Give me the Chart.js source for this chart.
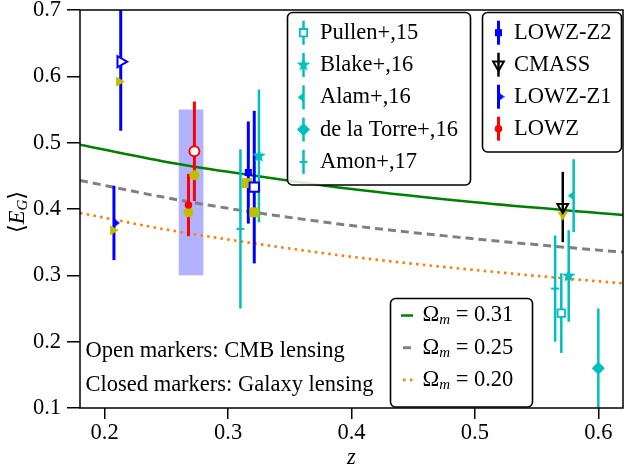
<!DOCTYPE html>
<html>
<head>
<meta charset="utf-8">
<script src="https://cdn.jsdelivr.net/npm/chart.js@4.4.1/dist/chart.umd.min.js"></script>
<style>
  html, body { margin: 0; padding: 0; background: #fff; }
</style>
</head>
<body>
<canvas id="chart" width="625" height="468"></canvas>
<script>
// AXES
const xTicks = [0.2, 0.3, 0.4, 0.5, 0.6];
const yTicks = [0.1, 0.2, 0.3, 0.4, 0.5, 0.6, 0.7];

// THEORY CURVES (E_G vs z)
const zTheory = [0.18, 0.25, 0.30, 0.40, 0.50, 0.60, 0.62];
const egOm031 = [0.497, 0.471, 0.456, 0.430, 0.410, 0.394, 0.391];
const egOm025 = [0.443, 0.417, 0.401, 0.375, 0.355, 0.338, 0.335];
const egOm020 = [0.394, 0.369, 0.354, 0.328, 0.308, 0.291, 0.288];

// LITERATURE
const zPullen = [0.570], egPullen = [0.243], errPullen = [0.060];
const zBlake = [0.325, 0.576], egBlake = [0.480, 0.299], errBlake = [0.100, 0.069];
const zAlam = [0.580], egAlam = [0.420], errAlam = [0.055];
const zTorre = [0.600], egTorre = [0.160], errTorre = [0.090];
const zAmon = [0.310, 0.565], egAmon = [0.370, 0.280], errAmon = [0.120, 0.080];

// THIS WORK - closed = galaxy lensing, open = CMB lensing
const zLowzZ2 = [0.3164], egLowzZ2 = [0.455], errLowzZ2 = [0.077];
const zLowzZ2Cmb = [0.3212], egLowzZ2Cmb = [0.433], errLowzZ2Cmb = [0.115];
const zCmassCmb = [0.5712], egCmassCmb = [0.403], errCmassCmb = [0.053];
const zLowzZ1 = [0.2075], egLowzZ1 = [0.379], errLowzZ1 = [0.056];
const zLowzZ1Cmb = [0.2130], egLowzZ1Cmb = [0.622], errLowzZ1Cmb = [0.104];
const zLowz = [0.2679], egLowz = [0.406], errLowz = [0.047];
const zLowzCmb = [0.2727], egLowzCmb = [0.487], errLowzCmb = [0.075];

// olive markers (no error bars)
const zOlive = [0.2116, 0.2067, 0.2727, 0.2679, 0.3153, 0.3212, 0.5712];
const egOlive = [0.592, 0.368, 0.451, 0.395, 0.439, 0.395, 0.391];

// shaded band
const zBand = [0.26, 0.28];
const egBand = [0.30, 0.55];

const FONT = "'Liberation Serif', 'DejaVu Serif', serif";
const CYAN = "#00bfbf", BLUE = "#0000ff", RED = "#ff0000", OLIVE = "#bfbf00";

function pts(zs, egs, errs) {
   return zs.map((z, i) => ({ x: z, y: egs[i], err: errs ? errs[i] : 0 }));
}

function starImage(r, color) {
   const c = document.createElement("canvas");
   c.width = c.height = Math.ceil(2 * r + 2);
   const g = c.getContext("2d");
   const cx = c.width / 2, cy = c.height / 2;
   g.beginPath();
   for (let i = 0; i < 10; i++) {
      const rr = i % 2 ? r * 0.42 : r;
      const a = -Math.PI / 2 + (i * Math.PI) / 5;
      g.lineTo(cx + rr * Math.cos(a), cy + rr * Math.sin(a));
   }
   g.closePath();
   g.fillStyle = color;
   g.fill();
   return c;
}

function caretImage(dir, w, h, color) {
   const c = document.createElement("canvas");
   c.width = 2 * w;
   c.height = h;
   const g = c.getContext("2d");
   g.fillStyle = color;
   g.beginPath();
   g.moveTo(w, 0);
   g.lineTo(dir > 0 ? 2 * w : 0, h / 2);
   g.lineTo(w, h);
   g.closePath();
   g.fill();
   return c;
}

const starCyan = starImage(7, CYAN);
const caretLeftCyan = caretImage(-1, 6, 9, CYAN);
const caretRightBlue = caretImage(1, 6, 9, BLUE);

function marker(label, data, style, color, opts) {
   return Object.assign({
      label: label,
      data: data,
      showLine: false,
      pointStyle: style,
      pointRadius: 5,
      pointRotation: 0,
      pointBackgroundColor: color,
      pointBorderColor: color,
      pointBorderWidth: 0,
      barColor: color,
      barWidth: 2.5,
      order: 0,
   }, opts || {});
}

function curve(label, ys, color, width, dash) {
   return {
      label: label,
      data: pts(zTheory, ys),
      showLine: true,
      isCurve: true,
      borderColor: color,
      borderWidth: width,
      borderDash: dash,
      borderCapStyle: "butt",
      cubicInterpolationMode: "monotone",
      pointRadius: 0,
      order: 20,
   };
}

const dsPullen = marker("Pullen+,15", pts(zPullen, egPullen, errPullen), "rect", CYAN,
   { pointRadius: 5.2, pointBackgroundColor: "#fff", pointBorderWidth: 1.8 });
const dsBlake = marker("Blake+,16", pts(zBlake, egBlake, errBlake), starCyan, CYAN);
const dsAlam = marker("Alam+,16", pts(zAlam, egAlam, errAlam), caretLeftCyan, CYAN);
const dsTorre = marker("de la Torre+,16", pts(zTorre, egTorre, errTorre), "rectRot", CYAN,
   { pointRadius: 6.5 });
const dsAmon = marker("Amon+,17", pts(zAmon, egAmon, errAmon), "line", CYAN,
   { pointRadius: 4, pointBorderWidth: 2 });

const dsLowzZ2 = marker("LOWZ-Z2", pts(zLowzZ2, egLowzZ2, errLowzZ2), "rect", BLUE,
   { pointRadius: 5, barWidth: 3 });
const dsLowzZ2Cmb = marker("LOWZ-Z2 CMB", pts(zLowzZ2Cmb, egLowzZ2Cmb, errLowzZ2Cmb), "rect", BLUE,
   { pointRadius: 6.6, pointBackgroundColor: "#fff", pointBorderWidth: 2, barWidth: 3 });
const dsCmass = marker("CMASS", pts(zCmassCmb, egCmassCmb, errCmassCmb), "triangle", "#000",
   { pointRadius: 6.2, pointRotation: 180, pointBackgroundColor: "rgba(255,255,255,0)", pointBorderWidth: 2 });
const dsLowzZ1 = marker("LOWZ-Z1", pts(zLowzZ1, egLowzZ1, errLowzZ1), caretRightBlue, BLUE,
   { barWidth: 3 });
const dsLowzZ1Cmb = marker("LOWZ-Z1 CMB", pts(zLowzZ1Cmb, egLowzZ1Cmb, errLowzZ1Cmb), "triangle", BLUE,
   { pointRadius: 6.5, pointRotation: 90, pointBackgroundColor: "#fff", pointBorderWidth: 2, barWidth: 3 });
const dsLowz = marker("LOWZ", pts(zLowz, egLowz, errLowz), "circle", RED,
   { pointRadius: 3.8, barWidth: 3 });
const dsLowzCmb = marker("LOWZ CMB", pts(zLowzCmb, egLowzCmb, errLowzCmb), "circle", RED,
   { pointRadius: 5, pointBackgroundColor: "#fff", pointBorderWidth: 2, barWidth: 3 });

const dsOlive = {
   label: "olive",
   data: pts(zOlive, egOlive),
   showLine: false,
   pointStyle: ["triangle", "triangle", "circle", "circle", "rect", "rect", "triangle"],
   pointRotation: [90, 90, 0, 0, 0, 0, 180],
   pointRadius: [5.8, 5.8, 5, 5, 7, 7, 5.8],
   pointBackgroundColor: OLIVE,
   pointBorderWidth: 0,
   order: 10,
};

const dsOm031 = curve("Om031", egOm031, "#008000", 2.5, []);
const dsOm025 = curve("Om025", egOm025, "#808080", 3, [8, 5]);
const dsOm020 = curve("Om020", egOm020, "#ff7f0e", 2.6, [2.6, 4.2]);

// PLUGINS
function drawErrorBars(chart) {
   const ctx = chart.ctx, xs = chart.scales.x, ys = chart.scales.y, a = chart.chartArea;
   ctx.save();
   ctx.beginPath();
   ctx.rect(a.left, a.top, a.right - a.left, a.bottom - a.top);
   ctx.clip();
   chart.data.datasets.forEach((ds) => {
      if (!ds.barColor) return;
      ctx.strokeStyle = ds.barColor;
      ctx.lineWidth = ds.barWidth;
      ds.data.forEach((p) => {
         const px = xs.getPixelForValue(p.x);
         ctx.beginPath();
         ctx.moveTo(px, ys.getPixelForValue(p.y + p.err));
         ctx.lineTo(px, ys.getPixelForValue(p.y - p.err));
         ctx.stroke();
      });
   });
   ctx.restore();
}

function richText(ctx, parts, x, y, align) {
   let w = 0;
   parts.forEach((p) => { ctx.font = p.f; w += ctx.measureText(p.t).width; });
   let cx = align === "center" ? x - w / 2 : x;
   ctx.textAlign = "left";
   ctx.textBaseline = "middle";
   parts.forEach((p) => {
      ctx.font = p.f;
      ctx.fillText(p.t, cx, y + (p.dy || 0));
      cx += ctx.measureText(p.t).width;
   });
}

function legendBox(ctx, x, y, w, h) {
   ctx.beginPath();
   ctx.roundRect(x, y, w, h, 5);
   ctx.fillStyle = "rgba(255,255,255,0.85)";
   ctx.fill();
   ctx.lineWidth = 1.6;
   ctx.strokeStyle = "#000";
   ctx.stroke();
}

function legendMarker(ctx, ds, x, y) {
   ctx.strokeStyle = ds.barColor;
   ctx.lineWidth = ds.barWidth;
   ctx.setLineDash([]);
   ctx.beginPath();
   ctx.moveTo(x, y - 12);
   ctx.lineTo(x, y + 12);
   ctx.stroke();
   ctx.fillStyle = ds.pointBackgroundColor;
   ctx.strokeStyle = ds.pointBorderColor;
   ctx.lineWidth = ds.pointBorderWidth;
   Chart.helpers.drawPoint(ctx, {
      pointStyle: ds.pointStyle,
      radius: ds.pointRadius,
      rotation: ds.pointRotation,
      borderWidth: ds.pointBorderWidth,
   }, x, y);
}

const txt = "22.5px " + FONT;
const sub = "italic 15px " + FONT;

const extras = {
   id: "extras",
   beforeDatasetsDraw(chart) {
      const ctx = chart.ctx, xs = chart.scales.x, ys = chart.scales.y;
      const x0 = xs.getPixelForValue(zBand[0]), x1 = xs.getPixelForValue(zBand[1]);
      const y0 = ys.getPixelForValue(egBand[1]), y1 = ys.getPixelForValue(egBand[0]);
      ctx.save();
      ctx.fillStyle = "rgba(0, 0, 255, 0.3)";
      ctx.fillRect(x0, y0, x1 - x0, y1 - y0);
      ctx.restore();
      chart.$barsDone = false;
   },
   beforeDatasetDraw(chart, args) {
      const ds = chart.data.datasets[args.index];
      if (!chart.$barsDone && !ds.isCurve) {
         drawErrorBars(chart);
         chart.$barsDone = true;
      }
   },
   afterDatasetsDraw(chart) {
      const ctx = chart.ctx, a = chart.chartArea;
      ctx.save();
      ctx.lineWidth = 1.5;
      ctx.strokeStyle = "#000";
      ctx.strokeRect(a.left, a.top, a.right - a.left, a.bottom - a.top);
      ctx.restore();
   },
   afterDraw(chart) {
      const ctx = chart.ctx, a = chart.chartArea;
      ctx.save();
      ctx.fillStyle = "#000";

      // axis titles
      richText(ctx, [{ t: "z", f: "italic 22.5px " + FONT }], (a.left + a.right) / 2, 458, "center");
      ctx.save();
      ctx.translate(18, 212);
      ctx.rotate(-Math.PI / 2);
      richText(ctx, [
         { t: "\u27E8", f: txt },
         { t: "E", f: "italic 22.5px " + FONT },
         { t: "G", f: sub, dy: 5 },
         { t: "\u27E9", f: txt },
      ], 0, 0, "center");
      ctx.restore();

      // legend 1: literature
      legendBox(ctx, 287.5, 12.5, 183, 172.5);
      const lit = [dsPullen, dsBlake, dsAlam, dsTorre, dsAmon];
      lit.forEach((ds, i) => {
         const y = 32.7 + i * 32.3;
         legendMarker(ctx, ds, 303.5, y);
         ctx.fillStyle = "#000";
         richText(ctx, [{ t: ds.label, f: txt }], 320, y);
      });

      // legend 2: this work
      legendBox(ctx, 482.5, 12.5, 139, 139.5);
      const ours = [dsLowzZ2, dsCmass, dsLowzZ1, dsLowz];
      ours.forEach((ds, i) => {
         const y = 32.7 + i * 32;
         legendMarker(ctx, ds, 498.5, y);
         ctx.fillStyle = "#000";
         richText(ctx, [{ t: ds.label, f: txt }], 514, y);
      });

      // legend 3: theory
      legendBox(ctx, 390.5, 298.5, 142, 108.5);
      const theory = [[dsOm031, "0.31"], [dsOm025, "0.25"], [dsOm020, "0.20"]];
      theory.forEach((t, i) => {
         const ds = t[0], y = 315.5 + i * 32.2;
         ctx.strokeStyle = ds.borderColor;
         ctx.lineWidth = ds.borderWidth;
         ctx.setLineDash(ds.borderDash);
         ctx.lineDashOffset = ds.borderDash.length ? -2 : 0;
         ctx.beginPath();
         ctx.moveTo(401, y);
         ctx.lineTo(413, y);
         ctx.stroke();
         ctx.setLineDash([]);
         ctx.fillStyle = "#000";
         richText(ctx, [
            { t: "\u03A9", f: txt },
            { t: "m", f: sub, dy: 5 },
            { t: " = " + t[1], f: txt },
         ], 422.5, y);
      });

      // annotations
      ctx.fillStyle = "#000";
      richText(ctx, [{ t: "Open markers: CMB lensing", f: txt }], 85.5, 351.5);
      richText(ctx, [{ t: "Closed markers: Galaxy lensing", f: txt }], 85.5, 385);

      ctx.restore();
   },
};

const ctx = document.getElementById("chart").getContext("2d");
window.chart1 = new Chart(ctx, {
   type: "scatter",
   data: {
      datasets: [
         dsLowzCmb, dsLowz, dsLowzZ1Cmb, dsLowzZ1, dsCmass, dsLowzZ2Cmb, dsLowzZ2,
         dsPullen, dsBlake, dsAlam, dsTorre, dsAmon,
         dsOlive,
         dsOm031, dsOm025, dsOm020,
      ],
   },
   options: {
      responsive: false,
      animation: false,
      events: [],
      layout: { autoPadding: false, padding: { top: 10, right: 2, left: 0, bottom: 0 } },
      plugins: {
         legend: { display: false },
         tooltip: { enabled: false },
      },
      scales: {
         x: {
            type: "linear",
            min: 0.18,
            max: 0.62,
            afterBuildTicks: (s) => { s.ticks = xTicks.map((v) => ({ value: v })); },
            afterFit: (s) => { s.height = 60; s.paddingLeft = 0; s.paddingRight = 0; },
            ticks: {
               color: "#000",
               font: { family: FONT, size: 22.5 },
               padding: 1,
               maxRotation: 0,
               autoSkip: false,
               callback: (v) => v.toFixed(1),
            },
            grid: { display: true, drawOnChartArea: false, drawTicks: true, tickLength: 11, color: "#000", lineWidth: 1.5 },
            border: { display: false },
         },
         y: {
            type: "linear",
            min: 0.1,
            max: 0.7,
            afterBuildTicks: (s) => { s.ticks = yTicks.map((v) => ({ value: v })); },
            afterFit: (s) => { s.width = 80; s.paddingTop = 0; s.paddingBottom = 0; },
            ticks: {
               color: "#000",
               font: { family: FONT, size: 22.5 },
               padding: 6,
               callback: (v) => v.toFixed(1),
            },
            grid: { display: true, drawOnChartArea: false, drawTicks: true, tickLength: 13, color: "#000", lineWidth: 1.5 },
            border: { display: false },
         },
      },
   },
   plugins: [extras],
});
</script>
</body>
</html>
